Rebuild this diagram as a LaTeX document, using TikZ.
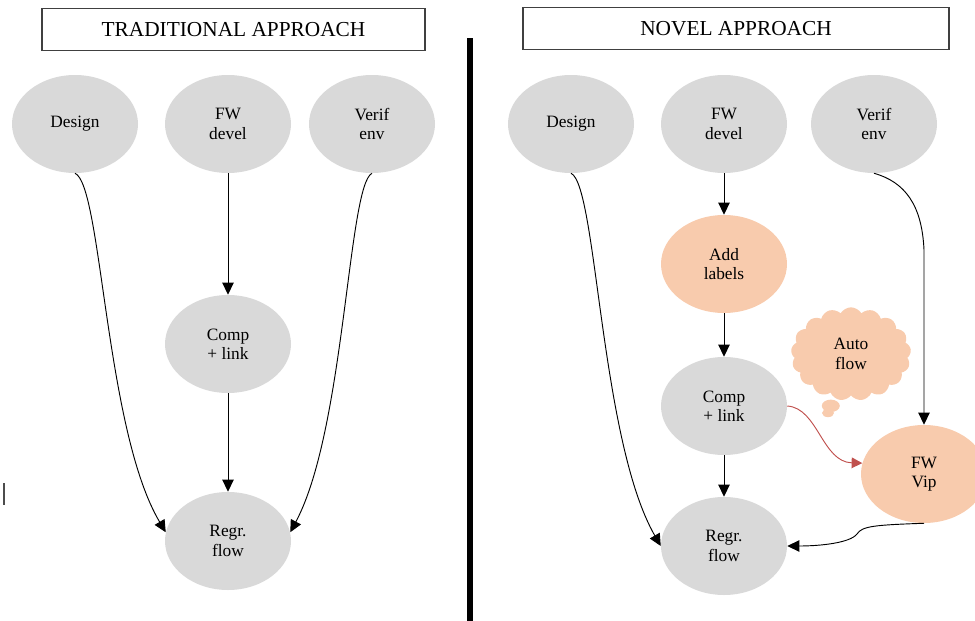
\documentclass[tikz,border=0pt]{standalone}
\usepackage{fontspec}
\setmainfont{Liberation Serif}
\usetikzlibrary{shapes.geometric,shapes.callouts,arrows.meta}
\definecolor{blobgray}{HTML}{D9D9D9}
\definecolor{blobpeach}{HTML}{F8CBAD}
\definecolor{flowred}{HTML}{C0504D}

\begin{document}
\begin{tikzpicture}[x=0.75pt,y=-0.75pt, every node/.style={font=\fontsize{13}{14.5}\selectfont, align=center},
    blob/.style={ellipse, fill=blobgray, minimum width=94.5pt, minimum height=73.5pt, inner sep=0pt},
    hot/.style={blob, fill=blobpeach},
    banner/.style={draw=black!75, line width=0.8pt, minimum width=#1, minimum height=32pt, font=\fontsize{16}{18}\selectfont},
    flow/.style={-{Triangle[length=9pt,width=8.5pt]}, line width=0.7pt}]
    \useasboundingbox (0,0) rectangle (975,621);
    % headers
    \node[banner=287.25pt] (tl) at (233.5,29.5) {TRADITIONAL APPROACH};
    \node[banner=319.5pt] (tr) at (736,28.5) {NOVEL APPROACH};
    \draw[line width=4pt] (470,38) -- (470,621);
    \draw[line width=0.8pt, black!70] (4,483) -- (4,505);
    % traditional
    \node[blob] (dl) at (75,124) {Design};
    \node[blob] (fl) at (228,124) {FW\\devel};
    \node[blob] (vl) at (372,124) {Verif\\env};
    \node[blob] (cl) at (228,344) {Comp\\+ link};
    \node[blob] (rl) at (228,541) {Regr.\\flow};
    \draw[flow] (dl.south) .. controls (102,185) and (105,430) .. (rl.172);
    \draw[flow] (fl) -- (cl);
    \draw[flow] (cl) -- (rl);
    \draw[flow] (vl.south) .. controls (348,185) and (345,430) .. (rl.8);
    % novel
    \node[blob] (dr) at (571,124) {Design};
    \node[blob] (fr) at (724,124) {FW\\devel};
    \node[blob] (vr) at (874,124) {Verif\\env};
    \node[hot] (al) at (724,264) {Add\\labels};
    \node[blob] (cr) at (724,406) {Comp\\+ link};
    \node[blob] (rr) at (724,546) {Regr.\\flow};
    \node[hot] (fv) at (924,474) {FW\\Vip};
    \node[cloud callout, fill=blobpeach, cloud puffs=17, cloud puff arc=120, cloud ignores aspect,
          minimum width=90pt, minimum height=70pt, inner sep=0pt,
          callout absolute pointer={(828,413)}] (af) at (851,354) {Auto\\flow};
    \draw[flow] (fr) -- (al);
    \draw[flow] (al) -- (cr);
    \draw[flow] (cr) -- (rr);
    \draw[flow] (dr.south) .. controls (597,185) and (600,440) .. (rr.west);
    \draw[flow] (vr.south) .. controls (905,182) and (922,205) .. (fv.north |- 0,250) -- (fv.north);
    \draw[flow, flowred, -{Triangle[length=8pt,width=8pt]}] (cr.east) .. controls (818,408) and (822,462) .. (fv.170);
    \draw[flow] (fv.south) .. controls (875,525) and (862,526) .. (857,534) .. controls (850,543) and (820,546) .. (rr.east);
\end{tikzpicture}
\end{document}
